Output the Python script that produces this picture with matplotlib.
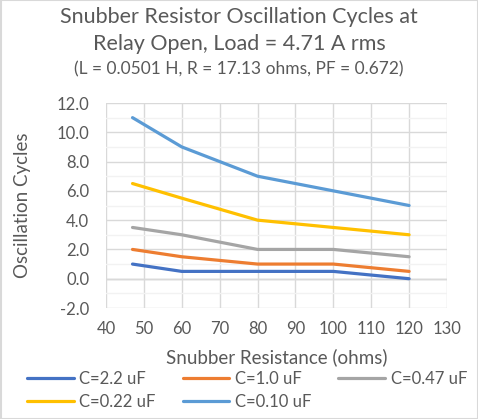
import matplotlib
matplotlib.use("Agg")
import matplotlib.pyplot as plt
from matplotlib.ticker import MultipleLocator, FormatStrFormatter
from matplotlib.patches import Rectangle

resistance = [47, 60, 80, 100, 120]
series_labels = ["C=2.2 uF", "C=1.0 uF", "C=0.47 uF", "C=0.22 uF", "C=0.10 uF"]
c_2_2 = [1.0, 0.5, 0.5, 0.5, 0.0]
c_1_0 = [2.0, 1.5, 1.0, 1.0, 0.5]
c_0_47 = [3.5, 3.0, 2.0, 2.0, 1.5]
c_0_22 = [6.5, 5.5, 4.0, 3.5, 3.0]
c_0_10 = [11.0, 9.0, 7.0, 6.0, 5.0]
series = [c_2_2, c_1_0, c_0_47, c_0_22, c_0_10]
colors = ["#4472C4", "#ED7D31", "#A5A5A5", "#FFC000", "#5B9BD5"]

plt.rcParams['font.family'] = ['Lato', 'DejaVu Sans']
txt = "#595959"

W, H = 478, 419
fig = plt.figure(figsize=(W/100, H/100), dpi=100)
fig.patches.append(Rectangle((0.5/W, 0.5/H), 1-1/W, 1-1/H, transform=fig.transFigure,
                             fill=False, edgecolor="#d9d9d9", linewidth=1.5))

left, right, top, bottom = 106, 447, 103, 308
ax = fig.add_axes([left/W, 1-bottom/H, (right-left)/W, (bottom-top)/H])

lines = []
for vals, col, lab in zip(series, colors, series_labels):
    ln, = ax.plot(resistance, vals, color=col, linewidth=2.3, label=lab, solid_capstyle='round', zorder=3)
    lines.append(ln)

ax.set_xlim(40, 130)
ax.set_ylim(-2, 12)
ax.xaxis.set_major_locator(MultipleLocator(10))
ax.yaxis.set_major_locator(MultipleLocator(2))
ax.yaxis.set_minor_locator(MultipleLocator(1))
ax.yaxis.set_major_formatter(FormatStrFormatter('%.1f'))
ax.grid(True, which='major', color="#d9d9d9", linewidth=1.0, zorder=0)
ax.grid(True, which='minor', axis='y', color="#f2f2f2", linewidth=1.0, zorder=0)
ax.axhline(0, color="#bfbfbf", linewidth=1.0, zorder=1)
for s in ax.spines.values():
    s.set_visible(False)
ax.tick_params(which='both', length=0, labelsize=12, labelcolor=txt)
ax.tick_params(axis='x', pad=9)
ax.tick_params(axis='y', pad=12)

ax.set_xlabel("Snubber Resistance (ohms)", fontsize=13.5, color=txt)
ax.xaxis.set_label_coords(0.5, 1-(357-top)/(bottom-top), transform=ax.transAxes)
ax.xaxis.label.set_va('center')
ax.set_ylabel("Oscillation Cycles", fontsize=13.5, color=txt)
ax.yaxis.set_label_coords((22-left)/(right-left), 0.5, transform=ax.transAxes)
ax.yaxis.label.set_va('center')

fig.text(0.5, 1-17/H, "Snubber Resistor Oscillation Cycles at", ha='center', va='center', fontsize=15.5, color=txt)
fig.text(0.5, 1-44/H, "Relay Open, Load = 4.71 A rms", ha='center', va='center', fontsize=15.5, color=txt)
fig.text(0.5, 1-69/H, "(L = 0.0501 H, R = 17.13 ohms, PF = 0.672)", ha='center', va='center', fontsize=12.5, color=txt)

# row-wise ordering for a 3-column legend
order = [0, 3, 1, 4, 2]
leg = fig.legend([lines[i] for i in order], [series_labels[i] for i in order],
                 loc='center left', bbox_to_anchor=(27/W, 1-390.5/H), ncol=3,
                 frameon=False, fontsize=12, labelcolor=txt, handlelength=2.8,
                 columnspacing=1.6, handletextpad=0.35, labelspacing=0.45,
                 borderaxespad=0, borderpad=0)

fig.savefig("out.png", dpi=100)
